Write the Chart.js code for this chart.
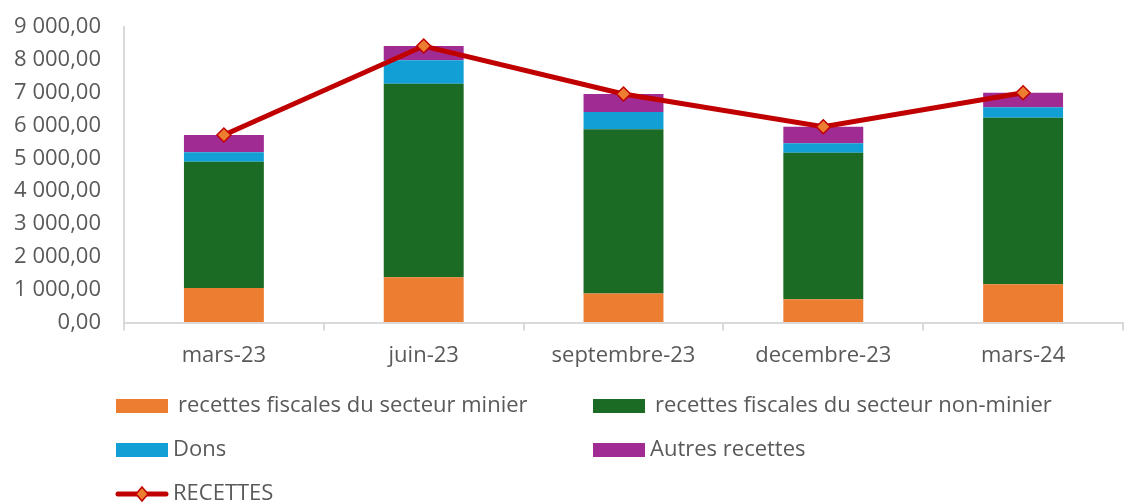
<!DOCTYPE html>
<html>
<head>
<meta charset="utf-8">
<script src="https://cdn.jsdelivr.net/npm/chart.js@4/dist/chart.umd.min.js"></script>
<style>
  html, body { margin: 0; padding: 0; background: #fff; }
  #wrap { width: 1134px; height: 504px; position: relative; }
</style>
</head>
<body>
<div id="wrap"><canvas id="myChart"></canvas></div>
<script>
// periodes (trimestres)
const labels = ['mars-23', 'juin-23', 'septembre-23', 'decembre-23', 'mars-24'];

// valeurs
const minier    = [1055, 1380, 884, 710, 1168];
const nonMinier = [3840, 5894, 5000, 4461, 5070];
const dons      = [290, 714, 528, 286, 317];
const autres    = [527, 436, 548, 506, 445];
const recettes  = [5712, 8420, 6960, 5963, 7000];

const yTicks = [0, 1000, 2000, 3000, 4000, 5000, 6000, 7000, 8000, 9000];

const FONT = '"Open Sans", "Liberation Sans", Arial, sans-serif';
const GREY = '#595959';

function fmt(v){
    // 9 000,00
    let s = Math.round(v).toString();
    s = s.replace(/\B(?=(\d{3})+(?!\d))/g, ' ');
    return s + ',00';
}

// legende dessinee a la main (2 colonnes)
const legendPlugin = {
    id: 'legendGrid',
    afterDraw(chart){
        const ctx = chart.ctx;
        const ds = chart.data.datasets;
        const pos = [
            {x: 116, y: 406, gap: 10},
            {x: 593, y: 406, gap: 10},
            {x: 116, y: 450, gap: 5},
            {x: 593, y: 450, gap: 5},
            {x: 116, y: 494, gap: 5}
        ];
        ctx.save();
        ctx.font = '22px ' + FONT;
        ctx.textBaseline = 'middle';
        ds.forEach((d, i) => {
            const p = pos[i];
            if (d.type === 'line') {
                ctx.strokeStyle = d.borderColor;
                ctx.lineWidth = 5;
                ctx.lineCap = 'round';
                ctx.beginPath();
                ctx.moveTo(p.x + 2, p.y);
                ctx.lineTo(p.x + 50, p.y);
                ctx.stroke();
                ctx.fillStyle = d.pointBackgroundColor;
                ctx.strokeStyle = d.pointBorderColor;
                ctx.lineWidth = 1.5;
                ctx.beginPath();
                ctx.moveTo(p.x + 26, p.y - 7);
                ctx.lineTo(p.x + 32, p.y);
                ctx.lineTo(p.x + 26, p.y + 7);
                ctx.lineTo(p.x + 20, p.y);
                ctx.closePath();
                ctx.fill();
                ctx.stroke();
            } else {
                ctx.fillStyle = d.backgroundColor;
                ctx.fillRect(p.x, p.y - 7, 52, 14);
            }
            ctx.fillStyle = GREY;
            ctx.fillText(d.label, p.x + 52 + p.gap, p.y);
        });
        ctx.restore();
    }
};

const ctx = document.getElementById('myChart');

new Chart(ctx, {
    type: 'bar',
    data: {
        labels: labels,
        datasets: [
            {label: 'recettes fiscales du secteur minier', data: minier, backgroundColor: '#ED7D31', stack: 's', order: 1},
            {label: 'recettes fiscales du secteur non-minier', data: nonMinier, backgroundColor: '#1B6B25', stack: 's', order: 1},
            {label: 'Dons', data: dons, backgroundColor: '#119FD6', stack: 's', order: 1},
            {label: 'Autres recettes', data: autres, backgroundColor: '#A02B93', stack: 's', order: 1},
            {
                type: 'line',
                label: 'RECETTES',
                data: recettes,
                borderColor: '#C00000',
                borderWidth: 5,
                pointStyle: 'rectRot',
                pointRadius: 7,
                pointBackgroundColor: '#ED7D31',
                pointBorderColor: '#C00000',
                pointBorderWidth: 1.5,
                order: 0,
                stack: 'line'
            }
        ]
    },
    options: {
        responsive: true,
        maintainAspectRatio: false,
        animation: false,
        layout: { padding: { top: 27, right: 11, bottom: 123, left: 0 } },
        datasets: { bar: { barPercentage: 0.8, categoryPercentage: 0.5, borderWidth: 0 } },
        plugins: {
            legend: { display: false },
            tooltip: { enabled: false }
        },
        scales: {
            x: {
                stacked: true,
                grid: { display: true, drawOnChartArea: false, drawTicks: true, tickLength: 8, color: '#D9D9D9', lineWidth: 2, offset: true },
                border: { display: true, color: '#D9D9D9', width: 2 },
                ticks: { color: GREY, font: { family: FONT, size: 22 }, padding: 12 }
            },
            y: {
                stacked: true,
                min: 0,
                max: 9000,
                afterBuildTicks: (scale) => { scale.ticks = yTicks.map(v => ({value: v})); },
                afterFit: (scale) => { scale.width = 124; },
                // tick marks invisibles, juste pour decaler les libelles
                grid: { display: true, drawOnChartArea: false, drawTicks: true, tickLength: 20, color: 'rgba(0,0,0,0)' },
                border: { display: true, color: '#D9D9D9', width: 2 },
                ticks: { color: GREY, font: { family: FONT, size: 22 }, padding: 3, callback: (v) => fmt(v) }
            }
        }
    },
    plugins: [legendPlugin]
});
</script>
</body>
</html>
